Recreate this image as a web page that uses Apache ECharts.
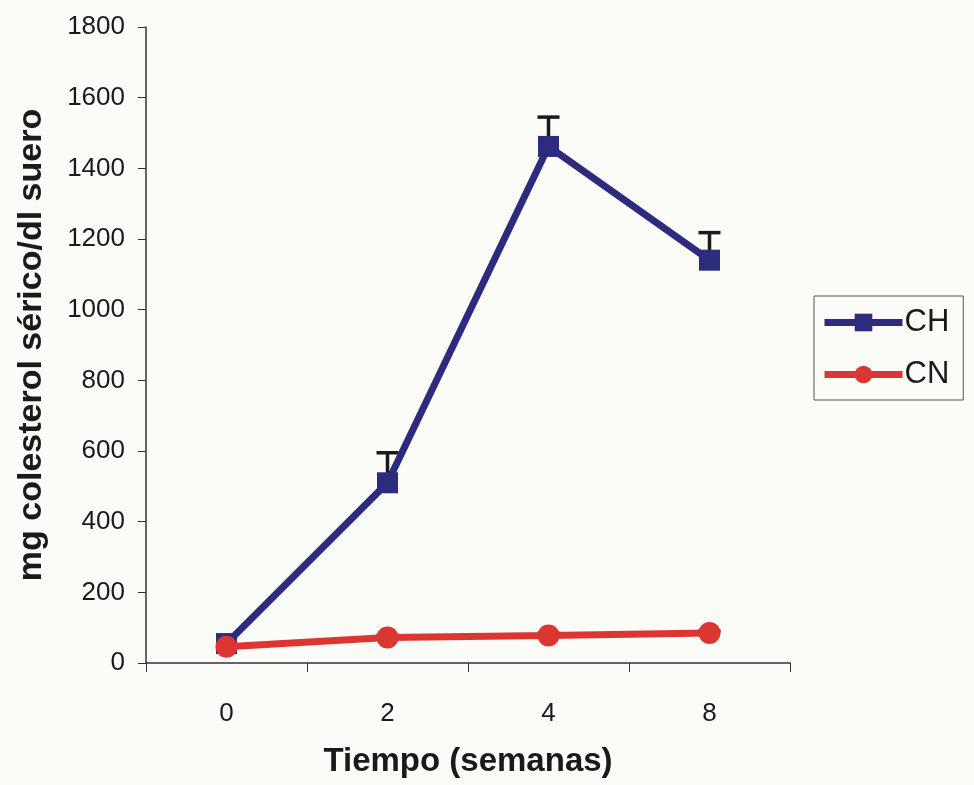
<!DOCTYPE html>
<html>
<head>
<meta charset="utf-8">
<script src="https://cdn.jsdelivr.net/npm/echarts@6/dist/echarts.min.js"></script>
<style>html,body{margin:0;padding:0;background:#fbfbf8;}#c{width:974px;height:785px;}</style>
</head>
<body>
<div id="c"></div>
<script>
const categories = ['0', '2', '4', '8'];
const chValues = [55, 510, 1462, 1140];
const chErrors = [0, 85, 83, 78];
const cnValues = [46, 72, 78, 85];
const cnErrors = [0, 6, 6, 6];
const yTicks = { min: 0, max: 1800, interval: 200 };

const chart = echarts.init(document.getElementById('c'), null, { renderer: 'canvas' });
const font = 'Liberation Sans, Arial, sans-serif';

function errData(vals, errs) {
  return vals.map((v, i) => [i, v, v + errs[i]]).filter((d, i) => errs[i] > 0);
}
function errRender(params, api) {
  const x = api.value(0);
  const base = api.coord([x, api.value(1)]);
  const top = api.coord([x, api.value(2)]);
  const half = 11;
  const style = { stroke: '#1a1a1a', lineWidth: 3.5 };
  return {
    type: 'group',
    children: [
      { type: 'line', shape: { x1: base[0], y1: base[1], x2: top[0], y2: top[1] }, style: style },
      { type: 'line', shape: { x1: top[0] - half, y1: top[1], x2: top[0] + half, y2: top[1] }, style: style }
    ]
  };
}

chart.setOption({
  backgroundColor: '#fbfbf8',
  animation: false,
  grid: { left: 146, right: 184, top: 27, bottom: 122 },
  legend: {
    orient: 'vertical',
    left: 814, top: 296,
    padding: [11, 14, 10, 7],
    itemGap: 21,
    itemWidth: 78, itemHeight: 22,
    borderColor: '#555', borderWidth: 1,
    lineStyle: { width: 7 },
    textStyle: { fontFamily: font, fontSize: 31, lineHeight: 30, color: '#1a1a1a', padding: [0, 0, 0, -3] },
    data: ['CH', 'CN']
  },
  xAxis: {
    type: 'category',
    data: categories,
    boundaryGap: true,
    axisLine: { lineStyle: { color: '#333', width: 1.5 } },
    axisTick: { show: true, length: 9, inside: false, lineStyle: { color: '#333' } },
    axisLabel: { fontFamily: font, fontSize: 26, color: '#1a1a1a', margin: 38 },
    name: 'Tiempo (semanas)',
    nameLocation: 'middle',
    nameGap: 82,
    nameTextStyle: { fontFamily: font, fontSize: 33, fontWeight: 'bold', color: '#1a1a1a' }
  },
  yAxis: {
    type: 'value',
    min: yTicks.min, max: yTicks.max, interval: yTicks.interval,
    splitLine: { show: false },
    axisLine: { show: true, lineStyle: { color: '#333', width: 1.5 } },
    axisTick: { show: true, length: 8, lineStyle: { color: '#333' } },
    axisLabel: { fontFamily: font, fontSize: 26, color: '#1a1a1a', margin: 21, formatter: v => String(v) },
    name: 'mg colesterol sérico/dl suero',
    nameLocation: 'middle',
    nameGap: 97,
    nameTextStyle: { fontFamily: font, fontSize: 34, fontWeight: 'bold', color: '#1a1a1a' }
  },
  series: [
    {
      name: 'CH', type: 'line', data: chValues,
      symbol: 'rect', symbolSize: 21,
      itemStyle: { color: '#2d2b7e' },
      lineStyle: { color: '#2d2b7e', width: 7 },
      z: 3
    },
    {
      name: 'CN', type: 'line', data: cnValues,
      symbol: 'circle', symbolSize: 22,
      itemStyle: { color: '#db3631' },
      lineStyle: { color: '#db3631', width: 7 },
      z: 4
    },
    {
      name: 'CH err', type: 'custom', renderItem: errRender,
      data: errData(chValues, chErrors), z: 2, silent: true
    },
    {
      name: 'CN err', type: 'custom', renderItem: errRender,
      data: errData(cnValues, cnErrors), z: 2, silent: true
    }
  ]
});
</script>
</body>
</html>
